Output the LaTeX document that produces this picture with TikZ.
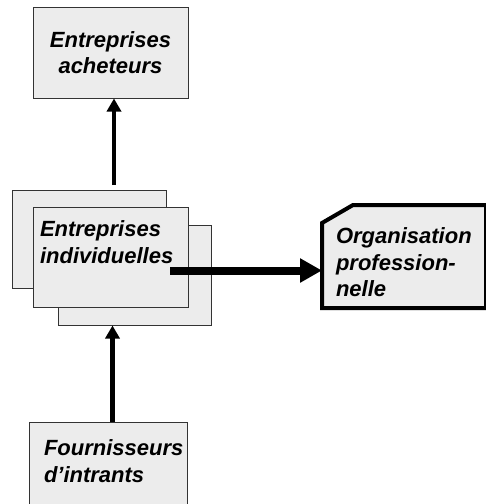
\documentclass[tikz,border=0pt]{standalone}
\usepackage{fontspec}
\setmainfont{Liberation Sans}
\usetikzlibrary{arrows.meta,backgrounds}

\tikzset{
  box/.style={draw=black!80, line width=1pt, fill=gray!15, inner sep=0pt,
    font=\fontsize{22}{26.5}\selectfont\bfseries\itshape},
  orgline/.style={draw=black, line width=4pt, fill=gray!15, line join=miter},
  link/.style={line width=4.5pt, -{Triangle[length=13pt,width=14pt]}},
  biglink/.style={line width=8pt, -{Triangle[length=22pt,width=23pt]}},
}

\begin{document}
\begin{tikzpicture}[x=1pt,y=-1pt]
  \useasboundingbox (0,0) rectangle (486,504);
  % buyers
  \node [box, minimum width=155pt, minimum height=91pt, align=center] (acheteurs) at (110.5,52.5) {Entreprises\\acheteurs};
  % stack of firms
  \node [box, minimum width=154pt, minimum height=98pt] (pile1) at (89,239) {};
  \node [box, minimum width=153pt, minimum height=100pt] (pile2) at (134.5,275) {};
  \node [box, minimum width=155pt, minimum height=100pt, align=left, text width=141pt, text depth=56pt] (indiv) at (110.5,257) {Entreprises\\individuelles};
  % suppliers
  \node [box, minimum width=158pt, minimum height=92pt, align=left, text width=128pt, text depth=40pt] (fournisseurs) at (108,468) {Fournisseurs\\d’intrants};
  % professional body, cut corner top left
  \node [box, draw=none, fill=none, outer sep=2pt, minimum width=160pt, minimum height=99pt, align=left, text width=136pt, text depth=41pt] (orga) at (404,256.5) {Organisation\\profession-\\nelle};
  \begin{scope}[on background layer]
    \draw [orgline] ([yshift=-18pt]orga.north west) -- ([xshift=31pt]orga.north west) -- (orga.north east) -- (orga.south east) -- (orga.south west) -- cycle;
  \end{scope}
  \coordinate (haut) at (114,185);
  \draw [link] (haut) -- (haut |- acheteurs.south);
  \coordinate (bas) at ([xshift=4.5pt]fournisseurs.north);
  \draw [link] (bas) -- (bas |- pile2.south);
  \coordinate (depart) at (170,270.5);
  \draw [biglink] (depart) -- (depart -| orga.west);
\end{tikzpicture}
\end{document}
